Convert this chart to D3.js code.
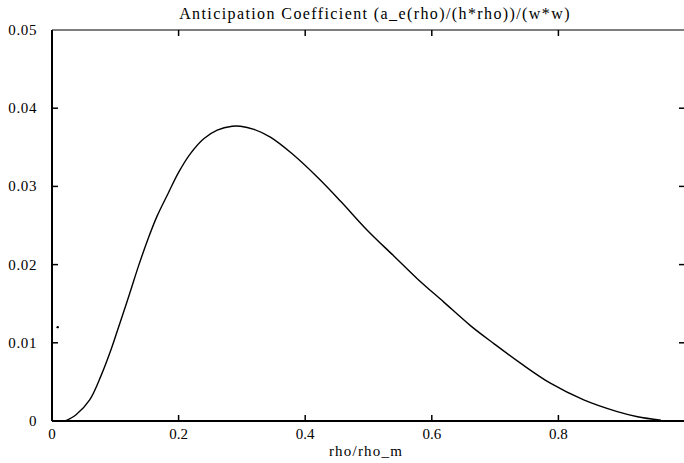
<!DOCTYPE html>
<html>
<head>
<meta charset="utf-8">
<script src="https://cdn.jsdelivr.net/npm/d3@7"></script>
<style>
  html, body { margin: 0; padding: 0; background: #fff; }
  svg { display: block; }
  text { font-family: "Liberation Serif", "DejaVu Serif", serif; fill: #000; }
</style>
</head>
<body>
<svg id="chart" width="684" height="463"></svg>
<script>
const title = "Anticipation Coefficient (a_e(rho)/(h*rho))/(w*w)";
const xLabel = "rho/rho_m";
const xTicks = [0, 0.2, 0.4, 0.6, 0.8];
const xTickLabels = ["0", "0.2", "0.4", "0.6", "0.8"];
const yTicks = [0, 0.01, 0.02, 0.03, 0.04, 0.05];
const yTickLabels = ["0", "0.01", "0.02", "0.03", "0.04", "0.05"];

const rho = [0.021, 0.038, 0.0595, 0.078, 0.094, 0.108, 0.1227, 0.137, 0.1527, 0.166, 0.1834, 0.200,
             0.2187, 0.2397, 0.261, 0.2846, 0.2977, 0.319, 0.345, 0.379, 0.419, 0.456, 0.498, 0.540,
             0.577, 0.619, 0.661, 0.698, 0.740, 0.788, 0.840, 0.893, 0.925, 0.962];
const coeff = [0, 0.0008, 0.0027, 0.0059, 0.0093, 0.0127, 0.0163, 0.0199, 0.0235, 0.0262, 0.0291, 0.0318,
               0.0342, 0.0361, 0.0372, 0.0377, 0.0377, 0.0373, 0.0363, 0.0342, 0.0312, 0.0281, 0.0244, 0.0211,
               0.0182, 0.0152, 0.0122, 0.0099, 0.0074, 0.0048, 0.0027, 0.0012, 0.00055, 0.0001];
const strayX = [0.009];
const strayY = [0.012];

const svg = d3.select("#chart");
const x = d3.scaleLinear().domain([0, 1]).range([52, 685]);
const y = d3.scaleLinear().domain([0, 0.05]).range([421, 30]);

// border
svg.append("line").attr("x1", x(0)).attr("x2", x(1)).attr("y1", y(0.05)).attr("y2", y(0.05))
  .attr("stroke", "#555").attr("stroke-width", 1.5);
svg.append("line").attr("x1", x(0)).attr("x2", x(1)).attr("y1", y(0)).attr("y2", y(0))
  .attr("stroke", "#000").attr("stroke-width", 2);
svg.append("line").attr("x1", x(0)).attr("x2", x(0)).attr("y1", y(0.05)).attr("y2", y(0))
  .attr("stroke", "#000").attr("stroke-width", 2);

// ticks
const g = svg.append("g");
xTicks.slice(1).forEach(t => {
  g.append("line").attr("x1", x(t)).attr("x2", x(t)).attr("y1", y(0)).attr("y2", y(0) - 6)
    .attr("stroke", "#000").attr("stroke-width", 1.5);
  g.append("line").attr("x1", x(t)).attr("x2", x(t)).attr("y1", y(0.05)).attr("y2", y(0.05) + 6)
    .attr("stroke", "#000").attr("stroke-width", 1.5);
});
yTicks.slice(1, -1).forEach(t => {
  g.append("line").attr("x1", x(0)).attr("x2", x(0) + 6).attr("y1", y(t)).attr("y2", y(t))
    .attr("stroke", "#000").attr("stroke-width", 1.5);
  g.append("line").attr("x1", x(1) - 6).attr("x2", x(1)).attr("y1", y(t)).attr("y2", y(t))
    .attr("stroke", "#000").attr("stroke-width", 1.5);
});

// tick labels
xTicks.forEach((t, i) => {
  svg.append("text").attr("x", x(t)).attr("y", 439).attr("text-anchor", "middle")
    .attr("font-size", 15).text(xTickLabels[i]);
});
yTicks.forEach((t, i) => {
  svg.append("text").attr("x", 37).attr("y", y(t) + 5).attr("text-anchor", "end")
    .attr("font-size", 15).attr("letter-spacing", 0.6).text(yTickLabels[i]);
});

// title & axis label
svg.append("text").attr("x", 375).attr("y", 19).attr("text-anchor", "middle")
  .attr("font-size", 16).attr("letter-spacing", 1.4).text(title);
svg.append("text").attr("x", 366).attr("y", 456).attr("text-anchor", "middle")
  .attr("font-size", 15).attr("letter-spacing", 1.2).text(xLabel);

// curve
const line = d3.line().x((d, i) => x(rho[i])).y((d, i) => y(coeff[i])).curve(d3.curveCatmullRom.alpha(0.5));
svg.append("path").datum(rho).attr("d", line).attr("fill", "none")
  .attr("stroke", "#000").attr("stroke-width", 1.4);

// stray point
svg.selectAll("circle.stray").data(strayX).enter().append("circle")
  .attr("class", "stray").attr("cx", (d, i) => x(d)).attr("cy", (d, i) => y(strayY[i]))
  .attr("r", 1.2).attr("fill", "#000");
</script>
</body>
</html>
